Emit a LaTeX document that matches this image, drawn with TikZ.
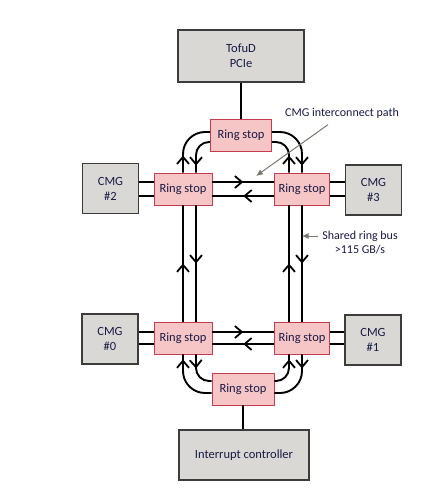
\documentclass[tikz,border=0pt]{standalone}
\usepackage{fontspec}
\setmainfont{Carlito}
\usetikzlibrary{arrows.meta,decorations.markings,calc}
\definecolor{boxgray}{RGB}{217,216,212}
\definecolor{boxedge}{RGB}{60,60,60}
\definecolor{stopfill}{RGB}{246,198,198}
\definecolor{stopedge}{RGB}{196,60,80}
\definecolor{labelnavy}{RGB}{25,25,70}
\definecolor{notegray}{RGB}{120,120,112}

\begin{document}
\begin{tikzpicture}[x=1pt, y=-1pt,
    unit/.style={rectangle, draw=boxedge, fill=boxgray, line width=1.1pt,
        minimum width=56pt, minimum height=50pt, align=center,
        text=labelnavy, font=\fontsize{12.5}{15}\selectfont},
    ringstop/.style={rectangle, draw=stopedge, fill=stopfill, line width=0.9pt,
        minimum width=58pt, minimum height=32pt,
        text=labelnavy, font=\fontsize{12.5}{15}\selectfont},
    bus/.style={line width=1.9pt},
    midarrow/.style={bus, postaction={decorate}, decoration={markings,
        mark=at position #1 with {\arrow{Straight Barb[length=7pt,width=12pt,line width=1.8pt]}}}},
    midarrow/.default=0.5,
    note/.style={text=labelnavy, font=\fontsize{12}{14}\selectfont, align=center},
    pointer/.style={-{Latex[length=7pt,width=6pt]}, notegray, line width=1pt}
]
\useasboundingbox (0,0) rectangle (426,490);

\node[unit, minimum width=126pt, minimum height=52pt] (pcie) at (241,56) {TofuD\\PCIe};
\node[ringstop, minimum width=61pt] (stopN) at (241,135) {Ring stop};
\node[unit] (cmg2) at (110.5,188.5) {CMG\\\#2};
\node[ringstop] (stop2) at (183,189) {Ring stop};
\node[ringstop, minimum width=55pt] (stop3) at (302,189) {Ring stop};
\node[unit] (cmg3) at (373.5,190) {CMG\\\#3};
\node[unit] (cmg0) at (110,339) {CMG\\\#0};
\node[ringstop] (stop0) at (183,338) {Ring stop};
\node[ringstop, minimum width=55pt] (stop1) at (302,338) {Ring stop};
\node[unit] (cmg1) at (373,340) {CMG\\\#1};
\node[ringstop, minimum width=62pt] (stopS) at (243,389) {Ring stop};
\node[unit, minimum width=130pt] (irq) at (244,455) {Interrupt controller};

\node[note] (pathnote) at (342,113) {CMG interconnect path};
\node[note] (busnote) at (360,243) {Shared ring bus\\>115 GB/s};

\draw[bus] (pcie.south) -- (pcie.south |- stopN.north);
\draw[bus] (stopS.south) -- (stopS.south |- irq.north);

\draw[bus] ($(stop2.west)+(0,-7)$) -- (cmg2.east |- {$(stop2.west)+(0,-7)$});
\draw[bus] ($(stop2.west)+(0,7)$) -- (cmg2.east |- {$(stop2.west)+(0,7)$});
\draw[bus] ($(stop3.east)+(0,-7)$) -- (cmg3.west |- {$(stop3.east)+(0,-7)$});
\draw[bus] ($(stop3.east)+(0,7)$) -- (cmg3.west |- {$(stop3.east)+(0,7)$});
\draw[bus] ($(stop0.west)+(0,-6)$) -- (cmg0.east |- {$(stop0.west)+(0,-6)$});
\draw[bus] ($(stop0.west)+(0,6)$) -- (cmg0.east |- {$(stop0.west)+(0,6)$});
\draw[bus] ($(stop1.east)+(0,-6)$) -- (cmg1.west |- {$(stop1.east)+(0,-6)$});
\draw[bus] ($(stop1.east)+(0,6)$) -- (cmg1.west |- {$(stop1.east)+(0,6)$});

\draw[midarrow] ($(stop2.east)+(0,-7)$) -- ($(stop3.west)+(0,-7)$);
\draw[midarrow] ($(stop3.west)+(0,7)$) -- ($(stop2.east)+(0,7)$);
\draw[midarrow] ($(stop0.east)+(0,-6)$) -- ($(stop1.west)+(0,-6)$);
\draw[midarrow] ($(stop1.west)+(0,6)$) -- ($(stop0.east)+(0,6)$);

\draw[midarrow] (stop0.north) -- (stop2.south);
\draw[midarrow] ($(stop2.south)+(13,0)$) -- ($(stop0.north)+(13,0)$);
\draw[midarrow] ($(stop1.north)+(-13,0)$) -- ($(stop3.south)+(-13,0)$);
\draw[midarrow] (stop3.south) -- (stop1.north);

\draw[midarrow=17pt, rounded corners=22pt] (stop2.north) |- ($(stopN.west)+(0,-3)$);
\draw[midarrow=-7pt, rounded corners=13pt] ($(stopN.west)+(0,7)$) -| ($(stop2.north)+(13,0)$);
\draw[midarrow=-7pt, rounded corners=22pt] ($(stopN.east)+(0,-3)$) -| (stop3.north);
\draw[midarrow=17pt, rounded corners=13pt] ($(stop3.north)+(-13,0)$) |- ($(stopN.east)+(0,7)$);

\draw[midarrow=-5pt, rounded corners=22pt] ($(stopS.west)+(0,4)$) -| (stop0.south);
\draw[midarrow=14pt, rounded corners=13pt] ($(stop0.south)+(13,0)$) |- ($(stopS.west)+(0,-8)$);
\draw[midarrow=14pt, rounded corners=22pt] (stop1.south) |- ($(stopS.east)+(0,4)$);
\draw[midarrow=-5pt, rounded corners=13pt] ($(stopS.east)+(0,-8)$) -| ($(stop1.south)+(-13,0)$);

\draw[pointer] ($(pathnote.south)+(-14,3)$) -- (256,176);
\draw[pointer] ($(busnote.west)+(-1,-7)$) -- ++(-16,0);

\end{tikzpicture}
\end{document}
